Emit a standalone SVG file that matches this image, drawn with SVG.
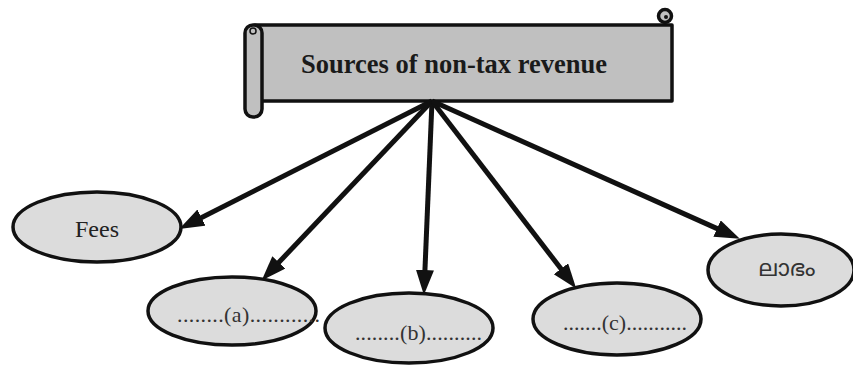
<svg xmlns="http://www.w3.org/2000/svg" width="853" height="365" viewBox="0 0 853 365">
  <style>
    .scroll { fill: #c0c0c0; stroke: #111; stroke-width: 3.5; stroke-linejoin: round; }
    .node { fill: #dcdcdc; stroke: #111; stroke-width: 3.5; }
    .label { font-family: "Liberation Serif", "DejaVu Serif", serif; font-size: 24px; fill: #222; text-anchor: middle; }
    .blank { font-family: "Liberation Serif", "DejaVu Serif", serif; font-size: 22px; fill: #333; }
    .title { font-family: "Liberation Serif", "DejaVu Serif", serif; font-size: 26.5px; font-weight: bold; fill: #1a1a1a; text-anchor: middle; }
    .ml { font-family: "Noto Sans Malayalam", "Noto Sans", "DejaVu Sans", sans-serif; font-size: 23px; fill: #333; text-anchor: middle; }
    .edge { stroke: #111; stroke-width: 5; fill: none; marker-end: url(#head); }
  </style>
  <defs>
    <marker id="head" markerUnits="userSpaceOnUse" markerWidth="28" markerHeight="20" refX="13" refY="9" orient="auto">
      <path d="M0,0 L25,9 L0,18 Z" fill="#111"/>
    </marker>
  </defs>

  <rect width="853" height="365" fill="#fff"/>

  <!-- title scroll -->
  <g id="title">
    <rect class="scroll" x="255" y="25" width="417" height="76"/>
    <circle class="scroll" cx="665" cy="16" r="6.5"/>
    <circle cx="666" cy="17" r="2" fill="#111"/>
    <rect class="scroll" x="245" y="25" width="17" height="92" rx="8"/>
    <circle cx="253" cy="31" r="3" fill="none" stroke="#111" stroke-width="1.5"/>
    <text class="title" x="454" y="73">Sources of non-tax revenue</text>
  </g>

  <!-- connectors -->
  <g id="connectors">
    <line class="edge" x1="432" y1="101" x2="189.9" y2="223.5"/>
    <line class="edge" x1="432" y1="101" x2="269.9" y2="271.8"/>
    <line class="edge" x1="432" y1="101" x2="424.4" y2="283"/>
    <line class="edge" x1="432" y1="101" x2="568.9" y2="279.1"/>
    <line class="edge" x1="432" y1="101" x2="728.9" y2="233.9"/>
  </g>

  <g id="fees">
    <ellipse class="node" cx="97" cy="227" rx="84" ry="35"/>
    <text class="label" x="97" y="237">Fees</text>
  </g>

  <g id="a">
    <ellipse class="node" cx="232" cy="311" rx="84" ry="34"/>
    <text class="blank" x="177" y="322" textLength="143" lengthAdjust="spacing">........(a)............</text>
  </g>

  <g id="b">
    <ellipse class="node" cx="409" cy="328" rx="84" ry="35"/>
    <text class="blank" x="355" y="340" textLength="127" lengthAdjust="spacing">........(b)..........</text>
  </g>

  <g id="c">
    <ellipse class="node" cx="617" cy="319" rx="84" ry="36"/>
    <text class="blank" x="563" y="330" textLength="124" lengthAdjust="spacing">.......(c)...........</text>
  </g>

  <g id="profit">
    <ellipse class="node" cx="781" cy="270" rx="73" ry="36"/>
    <text class="ml" x="787" y="276">ലാഭം</text>
  </g>
</svg>
